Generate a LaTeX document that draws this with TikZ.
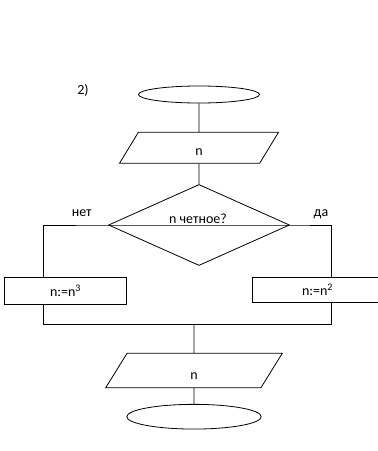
\documentclass[tikz,border=0pt]{standalone}
\usepackage{fontspec}
\setmainfont{Carlito}
\usetikzlibrary{shapes.geometric}
\newcommand{\powr}[1]{\raisebox{0.38em}{\fontsize{10}{10}\selectfont #1}}

\begin{document}
\begin{tikzpicture}[x=1pt, y=-1pt, line width=0.8pt,
  every node/.style={font=\fontsize{14}{16}\selectfont},
  term/.style={draw, ellipse, inner sep=0pt},
  io/.style={draw, trapezium, trapezium left angle=38.5, trapezium right angle=141.5,
    trapezium stretches body, inner sep=0pt, text height=15pt, text depth=0pt},
  proc/.style={draw, rectangle, inner sep=0pt},
  cond/.style={draw, diamond, inner sep=0pt, aspect=2.23}]
\useasboundingbox (0,0) rectangle (378,451);

\node[anchor=base] (num) at (83,94.5) {2)};
\node[term, minimum width=121pt, minimum height=17pt] (start) at (199,94.5) {};
\node[io, minimum width=159pt, minimum height=31pt] (input) at (199,147.8) {n};
\node[cond, minimum width=181pt, minimum height=81pt] (test) at (199,225) {};
\node[anchor=base] (testtext) at (198,223.5) {n четное?};
\node[anchor=base] (no) at (81.7,216.7) {нет};
\node[anchor=base] (yes) at (321,216) {да};
\node[proc, minimum width=122.7pt, minimum height=26.7pt] (cube) at (65.3,290.7) {n:=n\powr{3}};
\node[proc, minimum width=130pt, minimum height=25pt] (square) at (317.3,289.8) {n:=n\powr{2}};
\node[io, minimum width=176.6pt, minimum height=34.4pt, text height=17pt] (output) at (194,370.5) {n};
\node[term, minimum width=134.4pt, minimum height=24.7pt] (stop) at (194,416.7) {};

\coordinate (nobend) at (43,225);
\coordinate (yesbend) at (331,225);
\coordinate (joinL) at (43,324);
\coordinate (joinR) at (331,324);
\coordinate (join) at (194,324);

% main line
\draw (start) -- (input);
\draw (input) -- (test);
\draw (nobend) -- (test.west) -- (test.east) -- (yesbend);
% branches
\draw (nobend) -- (nobend |- cube.north);
\draw (yesbend) -- (yesbend |- square.north);
\draw (nobend |- cube.south) -- (joinL) -- (joinR) -- (yesbend |- square.south);
\draw (join) -- (output);
\draw (output) -- (stop);
\end{tikzpicture}
\end{document}
